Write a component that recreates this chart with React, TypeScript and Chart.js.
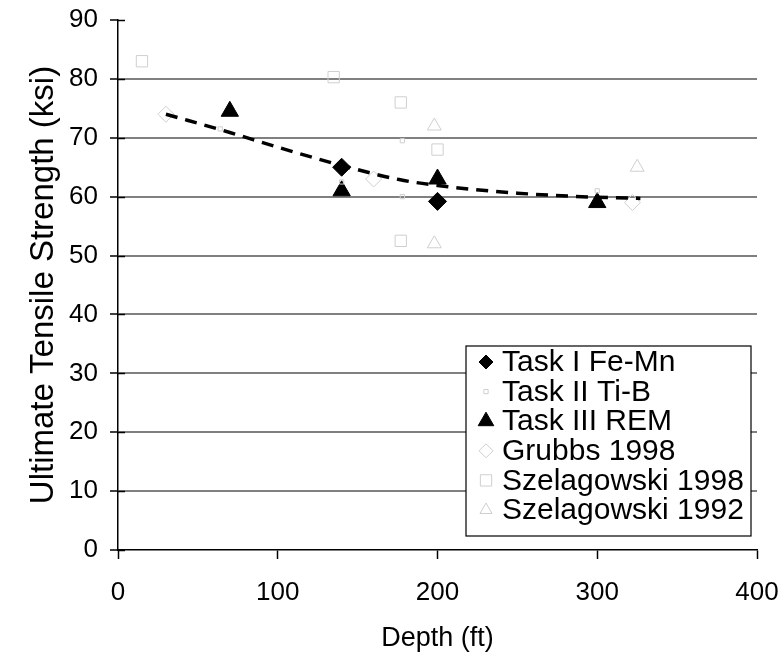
import React, { useEffect, useRef } from "react";
import { Chart, registerables } from "chart.js";

Chart.register(...registerables);

const FONT = "'Liberation Sans', Arial, Helvetica, sans-serif";

const xTicks = [0, 100, 200, 300, 400];
const yTicks = [0, 10, 20, 30, 40, 50, 60, 70, 80, 90];

const taskIDepth = [140, 200];
const taskIUts = [65, 59.2];

const taskIIDepth = [64, 140, 178, 178, 300];
const taskIIUts = [71.5, 62.5, 69.5, 60, 61];

const taskIIIDepth = [70, 140, 200, 300];
const taskIIIUts = [74.5, 61, 63, 59];

const grubbsDepth = [30, 160, 322];
const grubbsUts = [74, 63, 59];

const szel98Depth = [15, 135, 177, 200, 177];
const szel98Uts = [83, 80.3, 76, 68, 52.5];

const szel92Depth = [198, 198, 325];
const szel92Uts = [72, 52, 65];

const trendDepth = [30, 70, 100, 140, 176, 200, 250, 300, 327];
const trendUts = [74, 70.9, 68.4, 65.3, 62.9, 61.9, 60.6, 59.9, 59.7];

const legendLabels = [
  "Task I Fe-Mn",
  "Task II Ti-B",
  "Task III REM",
  "Grubbs 1998",
  "Szelagowski 1998",
  "Szelagowski 1992",
];

const FAINT = "#cfcfcf";

function pts(xs: number[], ys: number[]) {
  return xs.map((x, i) => ({ x, y: ys[i] }));
}

function drawMarker(ctx: CanvasRenderingContext2D, style: string, x: number, y: number, r: number, fill: string, stroke: string) {
  ctx.beginPath();
  if (style === "rectRot") {
    ctx.moveTo(x, y - r);
    ctx.lineTo(x + r, y);
    ctx.lineTo(x, y + r);
    ctx.lineTo(x - r, y);
    ctx.closePath();
  } else if (style === "triangle") {
    ctx.moveTo(x, y - r);
    ctx.lineTo(x + r * 0.866, y + r * 0.5);
    ctx.lineTo(x - r * 0.866, y + r * 0.5);
    ctx.closePath();
  } else {
    const s = r * 0.707;
    ctx.rect(x - s, y - s, 2 * s, 2 * s);
  }
  ctx.fillStyle = fill;
  ctx.fill();
  ctx.strokeStyle = stroke;
  ctx.lineWidth = 1;
  ctx.stroke();
}

const legendPlugin = {
  id: "boxLegend",
  afterDraw(chart: any) {
    const ctx = chart.ctx;
    const left = 466, top = 346, right = 751, bottom = 536;
    ctx.save();
    ctx.fillStyle = "#ffffff";
    ctx.fillRect(left, top, right - left, bottom - top);
    ctx.strokeStyle = "#000";
    ctx.lineWidth = 1.2;
    ctx.strokeRect(left, top, right - left, bottom - top);
    const ds = chart.data.datasets.filter((d: any) => !d.hideInLegend);
    ds.forEach((d: any, i: number) => {
      const y = 362 + i * 29.6;
      drawMarker(ctx, d.pointStyle, 486, y, d.legendRadius, d.backgroundColor, d.borderColor);
      ctx.fillStyle = "#000";
      ctx.font = `30px ${FONT}`;
      ctx.textBaseline = "middle";
      ctx.textAlign = "left";
      ctx.fillText(legendLabels[i], 502, y + 1);
    });
    ctx.restore();
  },
};

const innerTicksPlugin = {
  id: "innerTicks",
  afterDraw(chart: any) {
    const ctx = chart.ctx;
    const ys = chart.scales.y;
    const left = chart.chartArea.left;
    ctx.save();
    ctx.strokeStyle = "#000";
    ctx.lineWidth = 1.5;
    yTicks.forEach((v) => {
      const py = Math.round(ys.getPixelForValue(v)) + 0.5;
      ctx.beginPath();
      ctx.moveTo(left, py);
      ctx.lineTo(left + 7, py);
      ctx.stroke();
    });
    ctx.restore();
  },
};

export default function App() {
  const ref = useRef<HTMLCanvasElement>(null);

  useEffect(() => {
    if (!ref.current) return;
    const chart = new Chart(ref.current, {
      type: "scatter",
      data: {
        datasets: [
          {
            label: legendLabels[0],
            data: pts(taskIDepth, taskIUts),
            pointStyle: "rectRot",
            pointRadius: 9,
            legendRadius: 7,
            backgroundColor: "#000",
            borderColor: "#000",
            borderWidth: 1,
            order: 1,
          } as any,
          {
            label: legendLabels[1],
            data: pts(taskIIDepth, taskIIUts),
            pointStyle: "rect",
            pointRadius: 3,
            legendRadius: 3,
            backgroundColor: "rgba(255,255,255,0)",
            borderColor: FAINT,
            borderWidth: 1,
            order: 1,
          } as any,
          {
            label: legendLabels[2],
            data: pts(taskIIIDepth, taskIIIUts),
            pointStyle: "triangle",
            pointRadius: 10,
            legendRadius: 9,
            backgroundColor: "#000",
            borderColor: "#000",
            borderWidth: 1,
            order: 1,
          } as any,
          {
            label: legendLabels[3],
            data: pts(grubbsDepth, grubbsUts),
            pointStyle: "rectRot",
            pointRadius: 8,
            legendRadius: 7,
            backgroundColor: "rgba(255,255,255,0)",
            borderColor: FAINT,
            borderWidth: 1,
            order: 1,
          } as any,
          {
            label: legendLabels[4],
            data: pts(szel98Depth, szel98Uts),
            pointStyle: "rect",
            pointRadius: 8,
            legendRadius: 8,
            backgroundColor: "rgba(255,255,255,0)",
            borderColor: FAINT,
            borderWidth: 1,
            order: 1,
          } as any,
          {
            label: legendLabels[5],
            data: pts(szel92Depth, szel92Uts),
            pointStyle: "triangle",
            pointRadius: 8,
            legendRadius: 7,
            backgroundColor: "rgba(255,255,255,0)",
            borderColor: FAINT,
            borderWidth: 1,
            order: 1,
          } as any,
          {
            label: "Trend",
            hideInLegend: true,
            data: pts(trendDepth, trendUts),
            showLine: true,
            pointRadius: 0,
            borderColor: "#000",
            backgroundColor: "#000",
            borderWidth: 3.5,
            borderDash: [12, 8],
            tension: 0.4,
            cubicInterpolationMode: "monotone",
            order: 0,
          } as any,
        ],
      },
      options: {
        animation: false,
        responsive: false,
        layout: { padding: { top: 20, right: 24, left: 0, bottom: 0 } },
        plugins: {
          legend: { display: false },
          tooltip: { enabled: false },
        },
        scales: {
          x: {
            type: "linear",
            min: 0,
            max: 400,
            afterBuildTicks: (s: any) => {
              s.ticks = xTicks.map((v) => ({ value: v }));
            },
            afterFit: (s: any) => {
              s.height = 110;
              s.paddingLeft = 0;
              s.paddingRight = 0;
            },
            ticks: {
              color: "#000",
              font: { family: FONT, size: 26 },
              padding: 18,
              maxRotation: 0,
            },
            grid: {
              drawOnChartArea: false,
              drawTicks: true,
              tickLength: 9,
              tickColor: "#000",
              tickWidth: 1.5,
            },
            border: { color: "#000", width: 1.5 },
            title: {
              display: true,
              text: "Depth (ft)",
              color: "#000",
              font: { family: FONT, size: 27 },
              padding: { top: 0, bottom: 5 },
            },
          },
          y: {
            type: "linear",
            min: 0,
            max: 90,
            afterBuildTicks: (s: any) => {
              s.ticks = yTicks.map((v) => ({ value: v }));
            },
            afterFit: (s: any) => {
              s.width = 118;
              s.paddingTop = 0;
              s.paddingBottom = 0;
            },
            ticks: {
              color: "#000",
              font: { family: FONT, size: 26 },
              padding: 12,
            },
            grid: {
              color: (c: any) =>
                c.tick && (c.tick.value === 90 || c.tick.value === 0)
                  ? "rgba(0,0,0,0)"
                  : "#808080",
              lineWidth: 2,
              drawTicks: true,
              tickLength: 8,
              tickColor: "#000",
              tickWidth: 1.5,
            },
            border: { color: "#000", width: 1.5 },
            title: {
              display: true,
              text: "Ultimate Tensile Strength (ksi)",
              color: "#000",
              font: { family: FONT, size: 33 },
              padding: { top: 24, bottom: 0 },
            },
          },
        },
      } as any,
      plugins: [innerTicksPlugin, legendPlugin],
    });
    return () => chart.destroy();
  }, []);

  return (
    <div style={{ position: "fixed", left: 0, top: 0, width: 781, height: 660, background: "#fff" }}>
      <canvas ref={ref} width={781} height={660} style={{ width: 781, height: 660, display: "block" }} />
    </div>
  );
}
